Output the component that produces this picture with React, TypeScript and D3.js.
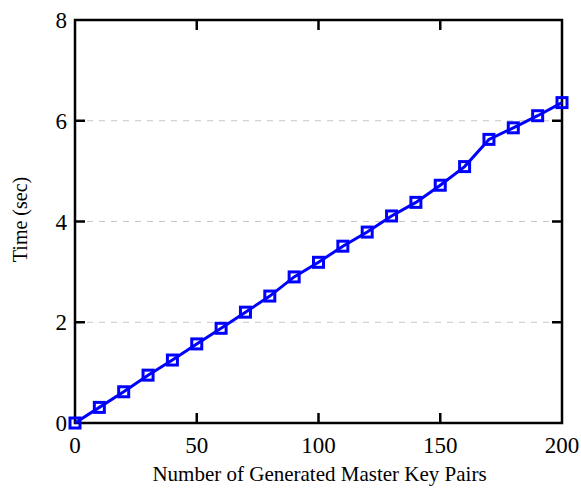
import { useEffect, useRef } from 'react'
import * as d3 from 'd3'

const keyPairs = [0, 10, 20, 30, 40, 50, 60, 70, 80, 90, 100, 110, 120, 130, 140, 150, 160, 170, 180, 190, 200]
const timeSec = [0, 0.31, 0.62, 0.95, 1.25, 1.57, 1.88, 2.2, 2.52, 2.9, 3.19, 3.51, 3.79, 4.11, 4.38, 4.72, 5.09, 5.63, 5.86, 6.1, 6.36]
const xTicks = [0, 50, 100, 150, 200]
const yTicks = [0, 2, 4, 6, 8]
const gridTicks = [2, 4, 6]

const FONT = '"Liberation Serif", "DejaVu Serif", serif'

export default function App() {
  const ref = useRef<SVGSVGElement>(null)

  useEffect(() => {
    if (!ref.current) return
    const svg = d3.select(ref.current)
    svg.selectAll('*').remove()

    const margin = { top: 20, right: 19, bottom: 65, left: 75 }
    const width = 581
    const height = 488
    const innerW = width - margin.left - margin.right
    const innerH = height - margin.top - margin.bottom

    const x = d3.scaleLinear().domain([0, 200]).range([0, innerW])
    const y = d3.scaleLinear().domain([0, 8]).range([innerH, 0])

    const g = svg.append('g').attr('transform', `translate(${margin.left},${margin.top})`)

    // dashed grid
    g.selectAll('.grid')
      .data(gridTicks)
      .enter()
      .append('line')
      .attr('x1', 0)
      .attr('x2', innerW)
      .attr('y1', (d) => y(d))
      .attr('y2', (d) => y(d))
      .attr('stroke', '#c8c8c8')
      .attr('stroke-width', 1.2)
      .attr('stroke-dasharray', '6,6')

    // inward ticks on all four sides
    const tickLen = 10
    const tickW = 2.5
    xTicks.slice(1, -1).forEach((t) => {
      g.append('line').attr('x1', x(t)).attr('x2', x(t)).attr('y1', innerH).attr('y2', innerH - tickLen)
        .attr('stroke', '#000').attr('stroke-width', tickW)
      g.append('line').attr('x1', x(t)).attr('x2', x(t)).attr('y1', 0).attr('y2', tickLen)
        .attr('stroke', '#000').attr('stroke-width', tickW)
    })
    yTicks.slice(1, -1).forEach((t) => {
      g.append('line').attr('x1', 0).attr('x2', tickLen).attr('y1', y(t)).attr('y2', y(t))
        .attr('stroke', '#000').attr('stroke-width', tickW)
      g.append('line').attr('x1', innerW).attr('x2', innerW - tickLen).attr('y1', y(t)).attr('y2', y(t))
        .attr('stroke', '#000').attr('stroke-width', tickW)
    })

    // frame
    g.append('rect')
      .attr('width', innerW)
      .attr('height', innerH)
      .attr('fill', 'none')
      .attr('stroke', '#000')
      .attr('stroke-width', 2.5)

    // tick labels
    g.selectAll('.xlab')
      .data(xTicks)
      .enter()
      .append('text')
      .attr('x', (d) => x(d))
      .attr('y', innerH + 30)
      .attr('text-anchor', 'middle')
      .style('font-family', FONT)
      .style('font-size', '23px')
      .text((d) => d)

    g.selectAll('.ylab')
      .data(yTicks)
      .enter()
      .append('text')
      .attr('x', -8)
      .attr('y', (d) => y(d) + 8)
      .attr('text-anchor', 'end')
      .style('font-family', FONT)
      .style('font-size', '23px')
      .text((d) => d)

    // axis titles
    g.append('text')
      .attr('x', innerW / 2 + 1)
      .attr('y', innerH + 58)
      .attr('text-anchor', 'middle')
      .style('font-family', FONT)
      .style('font-size', '21px')
      .text('Number of Generated Master Key Pairs')

    g.append('text')
      .attr('transform', 'rotate(-90)')
      .attr('x', -innerH / 2 + 2)
      .attr('y', -48)
      .attr('text-anchor', 'middle')
      .style('font-family', FONT)
      .style('font-size', '20px')
      .text('Time (sec)')

    // line + square markers
    const pts = keyPairs.map((k, i) => [k, timeSec[i]] as [number, number])
    const line = d3.line<[number, number]>().x((d) => x(d[0])).y((d) => y(d[1]))
    g.append('path')
      .attr('d', line(pts))
      .attr('fill', 'none')
      .attr('stroke', '#0000ff')
      .attr('stroke-width', 3)

    const s = 10
    g.selectAll('.marker')
      .data(pts)
      .enter()
      .append('rect')
      .attr('x', (d) => x(d[0]) - s / 2)
      .attr('y', (d) => y(d[1]) - s / 2)
      .attr('width', s)
      .attr('height', s)
      .attr('fill', 'none')
      .attr('stroke', '#0000ff')
      .attr('stroke-width', 3)
  }, [])

  return <svg ref={ref} width={581} height={488} style={{ position: 'absolute', left: 0, top: 0, background: '#fff' }} />
}
